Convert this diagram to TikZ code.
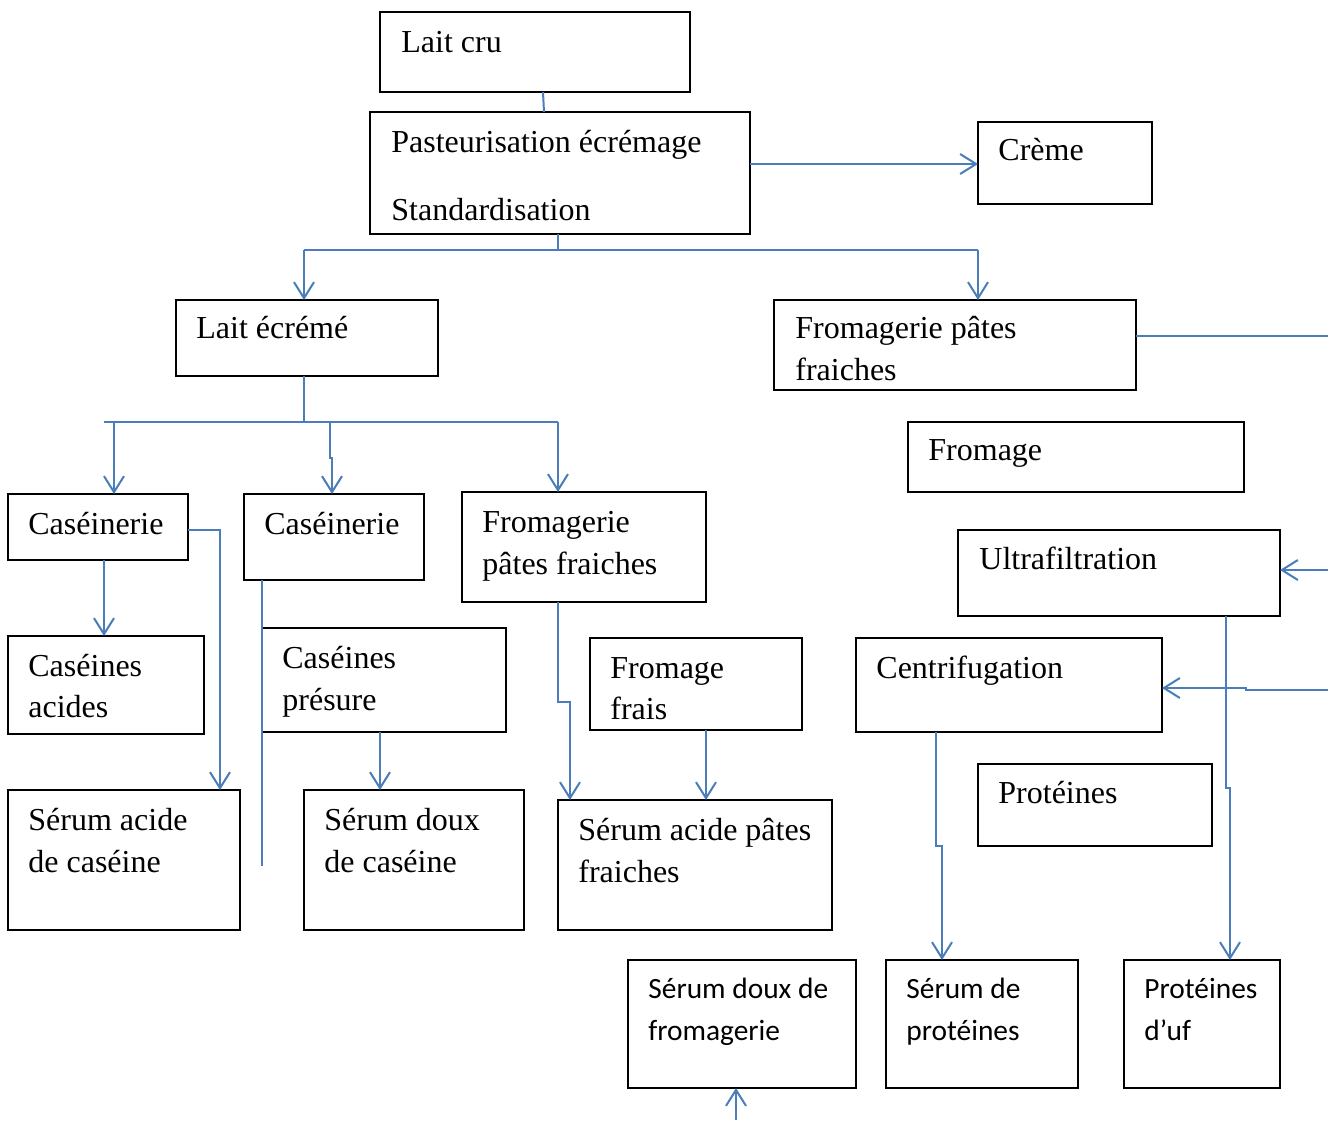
\documentclass[tikz,border=0pt]{standalone}
\usepackage{fontspec}
\setmainfont{Liberation Serif}
\newfontfamily\calfont{Carlito}
\usetikzlibrary{arrows.meta}
\definecolor{flow}{HTML}{4A7EBB}
% rectangle node given by its corners: name, x1, y1, x2, y2
\newcommand\flowbox[5]{%
  \node[box, minimum width={(#4-#2)*0.5pt}, minimum height={(#5-#3)*0.5pt}]
    (#1) at ({(#2+#4)/2},{(#3+#5)/2}) {};}
\begin{document}
\begin{tikzpicture}[x=0.5pt,y=-0.5pt,
  box/.style={draw=black, line width=0.75pt, inner sep=0pt, outer sep=0pt},
  lbl/.style={anchor=base west, inner sep=0pt, font=\fontsize{16}{21}\selectfont},
  slbl/.style={anchor=base west, inner sep=0pt, font=\calfont\fontsize{14.7}{20}\selectfont},
  link/.style={draw=flow, line width=1pt},
  flowto/.style={link, -{Straight Barb[length=8pt,width=10pt,line width=1pt]}},
]
\useasboundingbox (0,0) rectangle (1328,1120);

% boxes
\flowbox{laitcru}{380}{12}{690}{92}
\flowbox{past}{370}{112}{750}{234}
\flowbox{creme}{978}{122}{1152}{204}
\flowbox{ecreme}{176}{300}{438}{376}
\flowbox{fpfR}{774}{300}{1136}{390}
\flowbox{fromage}{908}{422}{1244}{492}
\flowbox{ultra}{958}{530}{1280}{616}
\flowbox{centri}{856}{638}{1162}{732}
\flowbox{prot}{978}{764}{1212}{846}
\flowbox{cas1}{8}{494}{188}{560}
\flowbox{cas2}{244}{494}{424}{580}
\flowbox{fpfM}{462}{492}{706}{602}
\flowbox{casac}{8}{636}{204}{734}
\flowbox{caspr}{262}{628}{506}{732}
\flowbox{ffrais}{590}{638}{802}{730}
\flowbox{seracC}{8}{790}{240}{930}
\flowbox{serdC}{304}{790}{524}{930}
\flowbox{serfp}{558}{800}{832}{930}
\flowbox{serdF}{628}{960}{856}{1088}
\flowbox{serprot}{886}{960}{1078}{1088}
\flowbox{protoeuf}{1124}{960}{1280}{1088}

% labels
\node[lbl] (laitcru-a) at (401,52) {Lait cru};
\node[lbl] (past-a) at (391,152) {Pasteurisation écrémage};
\node[lbl] (past-b) at (391,220) {Standardisation};
\node[lbl] (creme-a) at (998,160) {Crème};
\node[lbl] (ecreme-a) at (196,338) {Lait écrémé};
\node[lbl] (fpfR-a) at (795,338) {Fromagerie pâtes};
\node[lbl] (fpfR-b) at (795,380) {fraiches};
\node[lbl] (fromage-a) at (928,460) {Fromage};
\node[lbl] (ultra-a) at (979,569) {Ultrafiltration};
\node[lbl] (centri-a) at (876,678) {Centrifugation};
\node[lbl] (prot-a) at (998,803) {Protéines};
\node[lbl] (cas1-a) at (28,534) {Caséinerie};
\node[lbl] (cas2-a) at (264,534) {Caséinerie};
\node[lbl] (fpfM-a) at (482,532) {Fromagerie};
\node[lbl] (fpfM-b) at (482,574) {pâtes fraiches};
\node[lbl] (casac-a) at (28,676) {Caséines};
\node[lbl] (casac-b) at (28,717) {acides};
\node[lbl] (caspr-a) at (282,668) {Caséines};
\node[lbl] (caspr-b) at (282,710) {présure};
\node[lbl] (ffrais-a) at (610,678) {Fromage};
\node[lbl] (ffrais-b) at (610,719) {frais};
\node[lbl] (seracC-a) at (28,830) {Sérum acide};
\node[lbl] (seracC-b) at (28,872) {de caséine};
\node[lbl] (serdC-a) at (324,830) {Sérum doux};
\node[lbl] (serdC-b) at (324,872) {de caséine};
\node[lbl] (serfp-a) at (578,840) {Sérum acide pâtes};
\node[lbl] (serfp-b) at (578,882) {fraiches};
\node[slbl] (serdF-a) at (648,998) {Sérum doux de};
\node[slbl] (serdF-b) at (648,1040) {fromagerie};
\node[slbl] (serprot-a) at (906,998) {Sérum de};
\node[slbl] (serprot-b) at (906,1040) {protéines};
\node[slbl] (protoeuf-a) at (1144,998) {Protéines};
\node[slbl] (protoeuf-b) at (1144,1040) {d’uf};

% free ends at the edges
\coordinate (outR) at (1328,336);
\coordinate (inU) at (1328,570);
\coordinate (inC) at (1328,690);
\coordinate (inB) at (736,1120);
\coordinate (tailA) at (262,866);

% connectors
\draw[link] (543,0 |- laitcru.south) -- (544,0 |- past.north);
\draw[flowto] (past.east |- 0,164) -- (creme.west |- 0,164);
\draw[link] (558,0 |- past.south) -- (558,250);
\draw[link] (304,250) -- (978,250);
\draw[flowto] (304,250) -- (304,0 |- ecreme.north);
\draw[flowto] (978,250) -- (978,0 |- fpfR.north);
\draw[link] (304,0 |- ecreme.south) -- (304,422);
\draw[link] (104,422) -- (558,422);
\draw[flowto] (114,422) -- (114,0 |- cas1.north);
\draw[flowto] (330,422) -- (330,458) -- (332,458) -- (332,0 |- cas2.north);
\draw[flowto] (558,422) -- (558,0 |- fpfM.north);
\draw[flowto] (104,0 |- cas1.south) -- (104,0 |- casac.north);
\draw[flowto] (cas1.east |- 0,530) -| (220,0 |- seracC.north);
\draw[link] (262,0 |- cas2.south) -- (tailA);
\draw[flowto] (380,0 |- caspr.south) -- (380,0 |- serdC.north);
\draw[flowto] (558,0 |- fpfM.south) -- (558,702) -- (570,702) -- (570,0 |- serfp.north);
\draw[flowto] (706,0 |- ffrais.south) -- (706,0 |- serfp.north);
\draw[link] (fpfR.east |- outR) -- (outR);
\draw[flowto] (inU) -- (ultra.east |- inU);
\draw[flowto] (inC) -- (1246,690) -- (1246,688) -- (centri.east |- 0,688);
\draw[flowto] (936,0 |- centri.south) -- (936,846) -- (942,846) -- (942,0 |- serprot.north);
\draw[flowto] (1226,0 |- ultra.south) -- (1226,788) -- (1230,788) -- (1230,0 |- protoeuf.north);
\draw[flowto] (inB) -- (736,0 |- serdF.south);
\end{tikzpicture}
\end{document}
